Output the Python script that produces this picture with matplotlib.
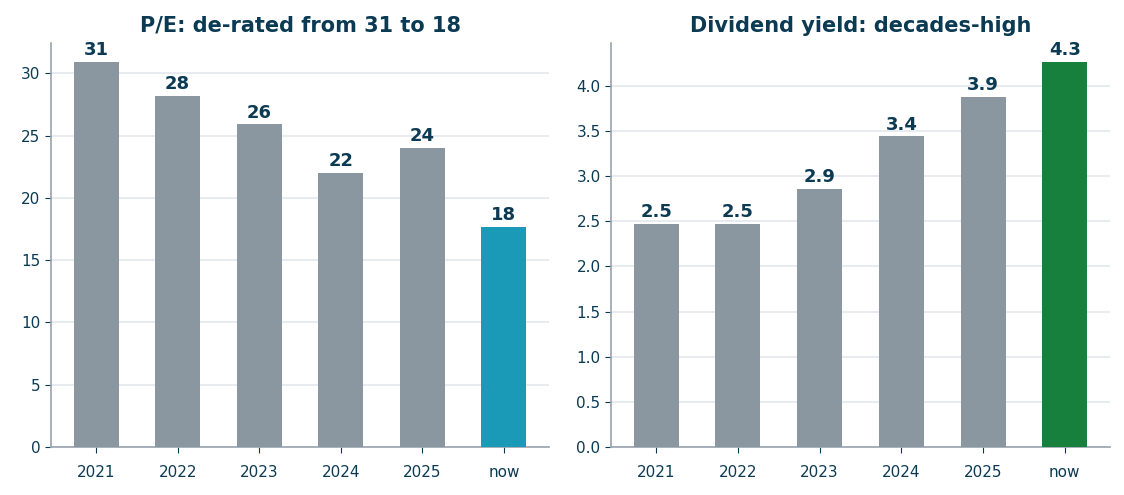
import matplotlib
matplotlib.use("Agg")
import matplotlib.pyplot as plt

years = ["2021", "2022", "2023", "2024", "2025", "now"]
pe = [30.9, 28.2, 25.9, 22.0, 24.0, 17.7]
dy = [2.47, 2.47, 2.86, 3.44, 3.88, 4.26]

navy = "#0B3A53"
grey = "#8A96A0"

fig = plt.figure(figsize=(11.24, 4.95), dpi=100)
ax1 = fig.add_axes([51 / 1124, 48 / 495, 498 / 1124, 404 / 495])
ax2 = fig.add_axes([611 / 1124, 48 / 495, 499 / 1124, 404 / 495])

def draw(ax, vals, last_color, title, fmt):
    colors = [grey] * (len(vals) - 1) + [last_color]
    bars = ax.bar(years, vals, width=0.55, color=colors, zorder=3)
    ax.bar_label(bars, fmt=fmt, padding=2, fontsize=13, fontweight="bold", color=navy)
    ax.set_title(title, fontsize=15, fontweight="bold", color=navy, pad=8)
    ax.grid(axis="y", color="#E4E9ED", linewidth=1.2, zorder=0)
    for s in ["top", "right"]:
        ax.spines[s].set_visible(False)
    for s in ["left", "bottom"]:
        ax.spines[s].set_color("#98A3AD")
        ax.spines[s].set_linewidth(1.2)
    ax.tick_params(colors=navy, labelsize=11, length=4)
    ax.tick_params(axis="x", pad=9)

draw(ax1, pe, "#1B9AB8", "P/E: de-rated from 31 to 18", "%.0f")
draw(ax2, dy, "#17803D", "Dividend yield: decades-high", "%.1f")

plt.savefig("out.png")
